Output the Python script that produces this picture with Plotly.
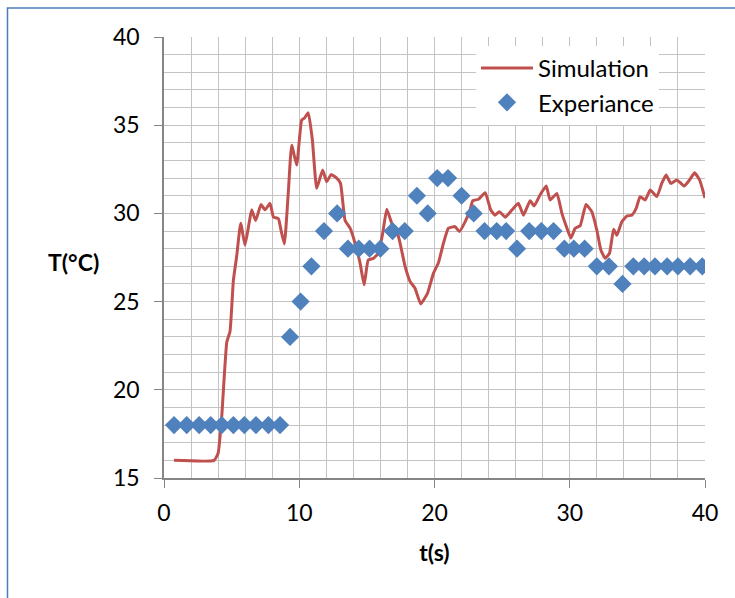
import plotly.graph_objects as go

# Simulation curve (t in s, T in °C)
sim_t = [0.74, 3.7, 4.0, 4.27, 4.64, 4.88, 5.13, 5.37, 5.67, 5.99, 6.29, 6.48, 6.78, 7.17, 7.47, 7.84,
         8.09, 8.46, 8.65, 8.9, 9.2, 9.44, 9.81, 10.18, 10.38, 10.67, 10.97, 11.29, 11.73, 12.03,
         12.35, 12.77, 13.05, 13.39, 13.76, 14.13, 14.5, 14.8, 15.1, 15.48, 15.85, 16.17, 16.47,
         16.84, 17.33, 17.83, 18.2, 18.56, 18.98, 19.48, 19.92, 20.29, 20.66, 21.03, 21.52, 21.84,
         22.27, 22.63, 22.83, 23.25, 23.75, 24.16, 24.48, 24.8, 25.23, 25.72, 26.2, 26.58, 27.07,
         27.37, 27.8, 28.26, 28.55, 29.05, 29.42, 29.8, 30.08, 30.4, 30.77, 31.2, 31.63, 32.0,
         32.3, 32.62, 32.94, 33.24, 33.48, 33.85, 34.22, 34.59, 34.91, 35.2, 35.58, 35.95, 36.44,
         36.8, 37.13, 37.47, 37.92, 38.46, 38.86, 39.23, 39.6, 40.0]
sim_T = [16.0, 16.0, 16.4, 18.5, 22.7, 23.3, 26.2, 27.55, 29.44, 28.2, 29.44, 30.2, 29.6, 30.5, 30.2, 30.57,
         29.8, 29.7, 29.06, 28.27, 31.3, 33.87, 32.74, 35.29, 35.4, 35.7, 34.16, 31.42, 32.46, 31.8,
         32.2, 32.0, 31.7, 29.6, 29.16, 28.3, 27.17, 25.95, 27.36, 27.45, 27.74, 28.87, 30.23,
         29.44, 28.7, 26.98, 26.13, 25.76, 24.87, 25.47, 26.6, 27.2, 28.3, 29.16, 29.25, 28.97,
         29.53, 30.19, 30.72, 30.8, 31.17, 30.19, 29.9, 30.1, 29.78, 30.19, 30.57, 29.9, 30.72,
         30.42, 31.04, 31.55, 30.76, 31.13, 30.0, 29.15, 28.6, 29.15, 29.3, 30.5, 30.1, 29.06,
         27.93, 27.46, 27.74, 29.1, 28.76, 29.53, 29.85, 29.9, 30.28, 30.95, 30.76, 31.33, 30.95,
         31.7, 32.17, 31.7, 31.9, 31.55, 31.9, 32.3, 31.9, 30.87]

# Experimental points
exp_t = [0.74, 1.68, 2.6, 3.45, 4.27, 5.13, 5.94, 6.8, 7.72, 8.58,
         9.32, 10.1, 10.9, 11.83, 12.8, 13.6, 14.4, 15.2, 16.0, 16.9, 17.8, 18.7, 19.5, 20.2,
         21.0, 22.0, 22.9, 23.7, 24.6, 25.3, 26.1, 27.0, 27.9, 28.8, 29.6, 30.3, 31.1, 32.0,
         32.9, 33.9, 34.7, 35.5, 36.3, 37.2, 38.0, 38.9, 39.8]
exp_T = [18, 18, 18, 18, 18, 18, 18, 18, 18, 18,
         23, 25, 27, 29, 30, 28, 28, 28, 28, 29, 29, 31, 30, 32,
         32, 31, 30, 29, 29, 29, 28, 29, 29, 29, 28, 28, 28, 27,
         27, 26, 27, 27, 27, 27, 27, 27, 27]

x_ticks = [0, 10, 20, 30, 40]
y_ticks = [15, 20, 25, 30, 35, 40]

FONT = "Lato, 'Open Sans', sans-serif"

fig = go.Figure()
fig.add_trace(go.Scatter(x=sim_t, y=sim_T, mode="lines", name="Simulation",
                         line=dict(color="#C0504D", width=3, shape="spline", smoothing=0.4)))
fig.add_trace(go.Scatter(x=exp_t, y=exp_T, mode="markers", name="Experiance",
                         marker=dict(symbol="diamond", size=14, color="#4F81BD")))

L, R, T, B = 164, 30, 37, 120
W, H = 735, 598
pw, ph = W - L - R, H - T - B

def px2x(p):
    return (p - L) / pw

def py2y(p):
    return (H - B - p) / ph

fig.update_layout(
    width=W, height=H,
    margin=dict(l=L, r=R, t=T, b=B),
    paper_bgcolor="white", plot_bgcolor="white",
    font=dict(family=FONT, size=23, color="black"),
    showlegend=True,
    legend=dict(x=px2x(476), y=py2y(46), xanchor="left", yanchor="top",
                bgcolor="white", borderwidth=0, font=dict(size=24),
                tracegroupgap=0, itemwidth=52),
    xaxis=dict(range=[0, 40], tickvals=x_ticks, ticks="outside", ticklen=8,
               tickcolor="#868686", tickwidth=1.3,
               showline=True, linecolor="#868686", linewidth=1.5,
               showgrid=True, gridcolor="#C3C3C3", gridwidth=1.3,
               minor=dict(dtick=2, showgrid=True, gridcolor="#C3C3C3", gridwidth=1.3),
               zeroline=False, ticklabelstandoff=6,
               title=dict(text="<b>t(s)</b>", standoff=20, font=dict(size=23))),
    yaxis=dict(range=[15, 40], tickvals=y_ticks, ticks="outside", ticklen=8,
               tickcolor="#868686", tickwidth=1.3,
               showline=True, linecolor="#868686", linewidth=1.5,
               showgrid=True, gridcolor="#C3C3C3", gridwidth=1.3,
               minor=dict(dtick=1, showgrid=True, gridcolor="#C3C3C3", gridwidth=1.3),
               zeroline=False, ticklabelstandoff=10),
    annotations=[dict(text="<b>T(°C)</b>", x=px2x(73), y=py2y(262), xref="paper", yref="paper",
                      showarrow=False, font=dict(size=23), xanchor="center", yanchor="middle")],
    shapes=[dict(type="rect", xref="paper", yref="paper",
                 x0=px2x(7.5), x1=px2x(760), y0=py2y(620), y1=py2y(8),
                 line=dict(color="#4A7EBB", width=1.5), fillcolor="rgba(0,0,0,0)", layer="below")],
)

fig.write_html("out.html")
